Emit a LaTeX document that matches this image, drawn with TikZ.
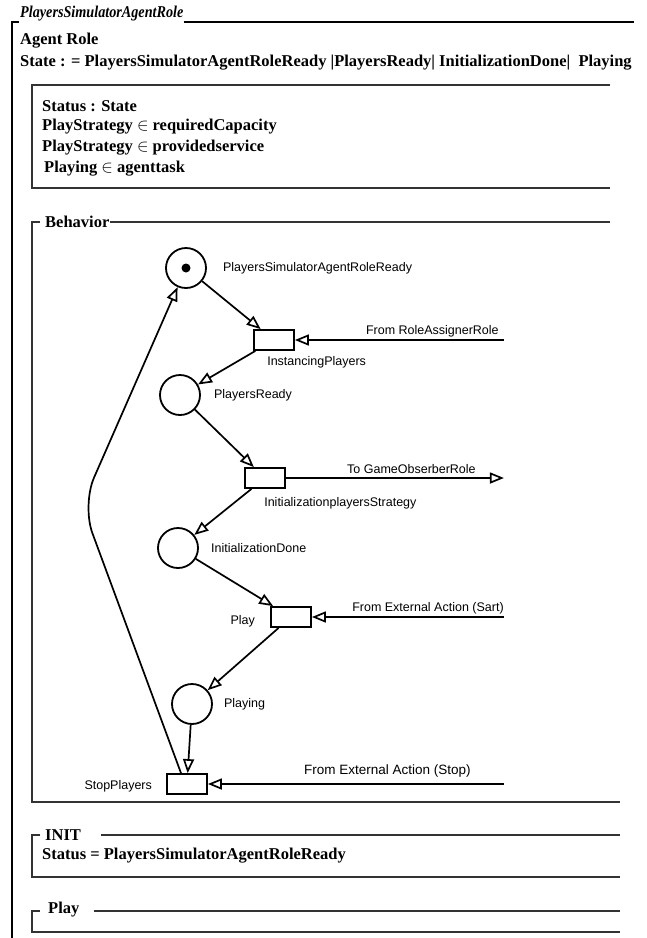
\documentclass[tikz,border=0pt]{standalone}
\usepackage{fontspec}
\setmainfont{Liberation Serif}
\newfontfamily\netfont{Liberation Sans}
\usepackage{amssymb}
\usepackage{tikz}
\usetikzlibrary{shapes.geometric, arrows, arrows.meta}
\usetikzlibrary{positioning}
\tikzstyle{place} = [circle, draw, line width=1.8pt, minimum size=40pt, inner sep=0pt]
\tikzstyle{transition} = [rectangle, draw, line width=1.8pt, minimum width=40pt, minimum height=20pt, inner sep=0pt]
\tikzstyle{token} = [circle, fill=black, minimum size=9pt, inner sep=0pt]
\tikzstyle{arc} = [line width=1.7pt, -{Triangle[open, length=14pt, width=11pt]}]
\tikzstyle{netlabel} = [font=\netfont\fontsize{12.5}{14}\selectfont, inner sep=0pt]
\tikzstyle{spec} = [font=\bfseries\fontsize{16.5}{18}\selectfont, inner sep=0pt, anchor=west]
\tikzstyle{frame} = [line width=1.1pt, draw=black!80]

\begin{document}
\begin{tikzpicture}[x=1pt, y=-1pt, node distance=70pt]
\useasboundingbox[fill=white] (0,0) rectangle (646,938);

% schema frame
\node (title) [spec, font=\bfseries\itshape\fontsize{16.5}{18}\selectfont, anchor=south west] at (20,21) {\scalebox{0.86}[1]{PlayersSimulatorAgentRole}};
\draw [frame, draw=black] (12,938) -- (12,22) -- (19,22);
\draw [frame, draw=black] (title.south east |- 0,22) -- (634,22);
\node (role) [spec] at (20,41) {Agent Role};
\node (state) [spec] at (20,63) {State : = PlayersSimulatorAgentRoleReady |PlayersReady| InitializationDone|\ \ Playing};

% attributes
\draw [frame] (610,85) -- (32,85) -- (32,188) -- (610,188);
\node (s1) [spec] at (42,106) {Status : State};
\node (s2) [spec] at (42,127) {PlayStrategy $\in$ requiredCapacity};
\node (s3) [spec] at (42,148) {PlayStrategy $\in$ providedservice};
\node (s4) [spec] at (44,169) {Playing $\in$ agenttask};

% behavior frame
\node (beh) [spec, anchor=south west] at (45,228) {Behavior};
\draw [frame] ([xshift=-5pt]beh.south west |- 0,222) -- (32,222) -- (32,802) -- (620,802);
\draw [frame] (beh.east |- 0,222) -- (610,222);

% petri net
\node (P1) [place] at (186,268) {};
\node (tok) [token] at (P1) {};
\node (T1) [transition, below of = P1, node distance=72pt, xshift=88pt] {};
\node (P2) [place, below of = T1, node distance=55pt, xshift=-94pt] {};
\node (T2) [transition, below of = P2, node distance=83pt, xshift=85pt] {};
\node (P3) [place, below of = T2, node distance=70pt, xshift=-87pt] {};
\node (T3) [transition, below of = P3, node distance=69pt, xshift=113pt] {};
\node (P4) [place, below of = T3, node distance=87pt, xshift=-99pt] {};
\node (T4) [transition, below of = P4, node distance=80pt, xshift=-5pt] {};

\node (P1lbl) [netlabel, right=16pt of P1] {PlayersSimulatorAgentRoleReady};
\node (T1lbl) [netlabel, below right=5pt and 14pt of T1.south west] {InstancingPlayers};
\node (P2lbl) [netlabel, right=13pt of P2] {PlayersReady};
\node (T2lbl) [netlabel, below right=8pt and 20pt of T2.south west] {InitializationplayersStrategy};
\node (P3lbl) [netlabel, right=12pt of P3] {InitializationDone};
\node (T3lbl) [netlabel, left=15pt of T3, yshift=-4pt] {Play};
\node (P4lbl) [netlabel, right=11pt of P4] {Playing};
\node (T4lbl) [netlabel, left=14pt of T4, yshift=-2pt] {StopPlayers};

\coordinate (inA) at ([xshift=209pt]T1.east);
\coordinate (outB) at ([xshift=218pt]T2.east);
\coordinate (inC) at ([xshift=192pt]T3.east);
\coordinate (inD) at ([xshift=296pt]T4.east);
\coordinate (back) at (82,505);

\node (inAlbl) [netlabel, above left=3pt and 5pt of inA] {From RoleAssignerRole};
\node (outBlbl) [netlabel, above left=4pt and 28pt of outB] {To GameObserberRole};
\node (inClbl) [netlabel, above left=3pt and 0pt of inC] {From External Action (Sart)};
\node (inDlbl) [netlabel, font=\netfont\fontsize{13.5}{15}\selectfont, above left=7pt and 33pt of inD] {From External Action (Stop)};

\draw [arc] (P1) -- (T1);
\draw [arc] (T1) -- (P2);
\draw [arc] (P2) -- (T2);
\draw [arc] (T2) -- (P3);
\draw [arc] (P3) -- (T3);
\draw [arc] (T3) -- (P4);
\draw [arc] (P4) -- (T4);
\draw [arc, rounded corners=30pt] ([xshift=-6pt]T4.north) -- (back) -- (P1);
\draw [arc] (inA) -- (T1);
\draw [arc] (T2) -- (outB);
\draw [arc] (inC) -- (T3);
\draw [arc] (inD) -- (T4);

% init and play frames
\node (init) [spec, anchor=south west] at (45,841) {INIT};
\draw [frame] ([xshift=-5pt]init.south west |- 0,835) -- (32,835) -- (32,877) -- (620,877);
\draw [frame] ([xshift=20pt]init.east |- 0,835) -- (620,835);
\node (s5) [spec] at (42,856) {Status = PlayersSimulatorAgentRoleReady};
\node (play) [spec, anchor=south west] at (48,917) {Play};
\draw [frame] ([xshift=-8pt]play.south west |- 0,911) -- (32,911) -- (32,932) -- (620,932);
\draw [frame] ([xshift=14pt]play.east |- 0,911) -- (620,911);
\end{tikzpicture}
\end{document}
